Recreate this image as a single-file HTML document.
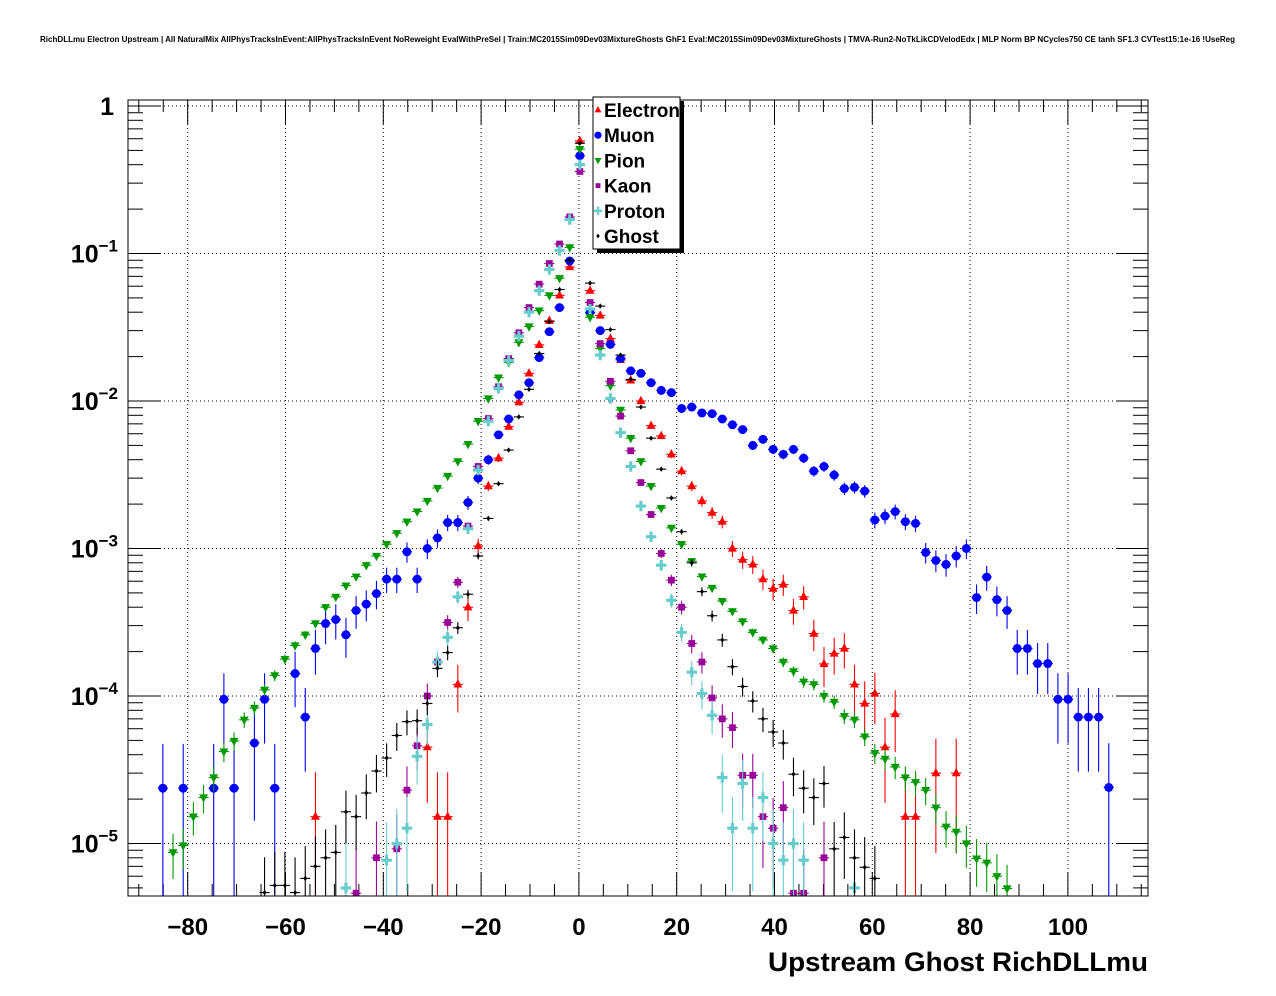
<!DOCTYPE html>
<html><head><meta charset="utf-8"><title>RichDLLmu</title>
<style>
html,body{margin:0;padding:0;background:#fff;width:1276px;height:996px;overflow:hidden;}
svg{display:block;font-family:"Liberation Sans",Arial,sans-serif;}
</style></head>
<body>
<svg id="chart" width="1276" height="996" viewBox="0 0 1276 996" xmlns="http://www.w3.org/2000/svg">
<rect x="0" y="0" width="1276" height="996" fill="#fff"/>
<text x="40" y="42" font-size="8" font-weight="bold" textLength="1195" lengthAdjust="spacingAndGlyphs">RichDLLmu Electron Upstream | All NaturalMix AllPhysTracksInEvent:AllPhysTracksInEvent NoReweight EvalWithPreSel | Train:MC2015Sim09Dev03MixtureGhosts GhF1 Eval:MC2015Sim09Dev03MixtureGhosts | TMVA-Run2-NoTkLikCDVelodEdx | MLP Norm BP NCycles750 CE tanh SF1.3 CVTest15:1e-16 !UseReg</text>
<defs><clipPath id="frameClip"><rect x="128" y="100" width="1020" height="796"/></clipPath></defs>
<g id="grid"></g>
<g id="axes"></g>
<g id="plot" clip-path="url(#frameClip)"></g>
<rect x="128" y="100" width="1020" height="796" fill="none" stroke="#000" stroke-width="1"/>
<text x="1148" y="971" text-anchor="end" font-size="27" font-weight="bold" textLength="380" lengthAdjust="spacingAndGlyphs">Upstream Ghost RichDLLmu</text>
<g id="legend">
  <rect x="597" y="101" width="87" height="152" fill="#000"/>
  <rect x="593" y="97" width="87" height="152" fill="#fff" stroke="#000" stroke-width="1"/>
</g>
</svg>
<script>
// bin centers (categories)
const binCenters = [-89.24,-87.16,-85.08,-83.0,-80.92,-78.84,-76.76,-74.68,-72.6,-70.52,
-68.44,-66.36,-64.28,-62.2,-60.12,-58.04,-55.96,-53.88,-51.8,-49.72,
-47.64,-45.56,-43.48,-41.4,-39.32,-37.24,-35.16,-33.08,-31.0,-28.92,
-26.84,-24.76,-22.68,-20.6,-18.52,-16.44,-14.36,-12.28,-10.2,-8.12,
-6.04,-3.96,-1.88,0.2,2.28,4.36,6.44,8.52,10.6,12.68,
14.76,16.84,18.92,21.0,23.08,25.16,27.24,29.32,31.4,33.48,
35.56,37.64,39.72,41.8,43.88,45.96,48.04,50.12,52.2,54.28,
56.36,58.44,60.52,62.6,64.68,66.76,68.84,70.92,73.0,75.08,
77.16,79.24,81.32,83.4,85.48,87.56,89.64,91.72,93.8,95.88,
97.96,100.04,102.12,104.2,106.28,108.36,110.44];
const n=null;
const electronValues = [n,n,n,n,n,n,n,n,n,n,
n,n,n,n,n,n,n,1.52e-5,n,n,
n,n,n,n,n,n,n,n,4.5e-5,1.52e-5,
1.52e-5,1.2e-4,4.0e-4,1.04e-3,2.65e-3,4.1e-3,6.7e-3,9.8e-3,1.54e-2,2.4e-2,
3.5e-2,5.2e-2,8.1e-2,0.58,5.6e-2,3.8e-2,2.65e-2,1.9e-2,1.38e-2,1.0e-2,
6.8e-3,5.8e-3,4.35e-3,3.35e-3,2.65e-3,2.1e-3,1.75e-3,1.52e-3,1.0e-3,8.4e-4,
7.8e-4,6.2e-4,5.35e-4,5.7e-4,3.8e-4,4.7e-4,2.65e-4,1.65e-4,1.94e-4,2.1e-4,
1.2e-4,8.9e-5,1.04e-4,4.5e-5,7.55e-5,1.52e-5,1.52e-5,n,3.0e-5,n,
3.0e-5,n,n,n,n,n,n,n,n,n,
n,n,n,n,n,n,n];
const muonValues = [n,n,2.37e-5,n,2.37e-5,n,n,2.37e-5,9.5e-5,2.37e-5,
n,4.8e-5,9.5e-5,2.37e-5,n,1.42e-4,7.2e-5,2.1e-4,3.1e-4,3.3e-4,
2.6e-4,3.8e-4,4.2e-4,4.95e-4,6.2e-4,6.2e-4,9.5e-4,6.2e-4,1.0e-3,1.18e-3,
1.5e-3,1.5e-3,2.05e-3,3.0e-3,4.0e-3,5.9e-3,7.55e-3,1.1e-2,1.33e-2,1.97e-2,
2.95e-2,4.3e-2,8.9e-2,0.46,3.97e-2,3.0e-2,2.42e-2,1.94e-2,1.6e-2,1.54e-2,
1.33e-2,1.18e-2,1.14e-2,8.9e-3,9.1e-3,8.3e-3,8.2e-3,7.55e-3,6.9e-3,6.4e-3,
5.0e-3,5.5e-3,4.7e-3,4.35e-3,4.7e-3,4.1e-3,3.35e-3,3.6e-3,3.15e-3,2.55e-3,
2.6e-3,2.45e-3,1.56e-3,1.66e-3,1.78e-3,1.52e-3,1.48e-3,9.4e-4,8.3e-4,7.8e-4,
8.9e-4,1.0e-3,4.65e-4,6.4e-4,4.5e-4,3.8e-4,2.1e-4,2.1e-4,1.66e-4,1.66e-4,
9.5e-5,9.5e-5,7.2e-5,7.2e-5,7.2e-5,2.4e-5,n];
const pionValues = [n,n,n,8.7e-6,9.7e-6,1.52e-5,2.05e-5,2.8e-5,4.2e-5,4.95e-5,
6.9e-5,8.3e-5,1.1e-4,1.38e-4,1.78e-4,2.2e-4,2.6e-4,3.1e-4,4.0e-4,4.7e-4,
5.6e-4,6.45e-4,7.7e-4,8.9e-4,1.07e-3,1.27e-3,1.52e-3,1.78e-3,2.1e-3,2.57e-3,
3.1e-3,3.9e-3,5.1e-3,7.3e-3,1.04e-2,1.44e-2,1.83e-2,2.5e-2,3.2e-2,4.1e-2,
5.2e-2,6.8e-2,0.11,0.51,3.7e-2,2.27e-2,1.27e-2,8.7e-3,5.6e-3,3.9e-3,
2.65e-3,1.88e-3,1.38e-3,1.07e-3,8.2e-4,6.45e-4,5.4e-4,4.4e-4,3.75e-4,3.2e-4,
2.7e-4,2.4e-4,2.1e-4,1.7e-4,1.47e-4,1.25e-4,1.2e-4,1.0e-4,9.1e-5,7.3e-5,
6.9e-5,5.3e-5,4.1e-5,3.75e-5,3.3e-5,2.8e-5,2.6e-5,2.3e-5,1.75e-5,1.3e-5,
1.2e-5,1.0e-5,7.9e-6,7.4e-6,6.0e-6,4.95e-6,n,n,n,n,
n,n,n,n,n,n,n];
const kaonValues = [n,n,n,n,n,n,n,n,n,n,
n,n,n,n,n,n,n,n,n,n,
n,4.6e-6,n,8.0e-6,n,9.2e-6,2.3e-5,4.6e-5,1.0e-4,1.7e-4,
3.15e-4,5.9e-4,1.42e-3,3.6e-3,7.6e-3,1.25e-2,1.94e-2,2.9e-2,4.3e-2,6.2e-2,
8.55e-2,0.116,0.177,0.36,4.65e-2,2.45e-2,1.36e-2,7.9e-3,4.6e-3,2.8e-3,
1.7e-3,9.25e-4,6.1e-4,4.0e-4,2.27e-4,1.7e-4,9.7e-5,7.0e-5,6.1e-5,2.9e-5,
2.9e-5,1.52e-5,1.27e-5,1.75e-5,4.6e-6,4.6e-6,n,8.0e-6,n,n,
n,n,n,n,n,n,n,n,n,n,
n,n,n,n,n,n,n,n,n,n,
n,n,n,n,n,n,n];
const protonValues = [n,n,n,n,n,n,n,n,n,n,
n,n,n,n,n,n,n,n,n,n,
5.0e-6,n,n,n,7.7e-6,1.0e-5,1.27e-5,3.9e-5,6.4e-5,1.7e-4,
2.5e-4,4.7e-4,1.36e-3,3.4e-3,7.3e-3,1.22e-2,1.88e-2,2.75e-2,4.0e-2,5.6e-2,
7.8e-2,0.105,0.17,0.40,4.2e-2,2.05e-2,1.04e-2,6.1e-3,3.6e-3,1.94e-3,
1.2e-3,7.7e-4,4.45e-4,2.7e-4,1.45e-4,1.04e-4,7.4e-5,2.8e-5,1.27e-5,2.55e-5,
1.27e-5,2.05e-5,1.0e-5,7.7e-6,1.0e-5,7.7e-6,n,n,n,n,
5.0e-6,n,n,n,n,n,n,n,n,n,
n,n,n,n,n,n,n,n,n,n,
n,n,n,n,n,n,n];
const ghostValues = [n,n,n,n,n,n,n,n,n,n,
n,n,4.65e-6,5.2e-6,5.2e-6,4.65e-6,5.8e-6,7.0e-6,8.0e-6,8.7e-6,
1.64e-5,1.52e-5,2.2e-5,3.1e-5,3.8e-5,5.4e-5,6.7e-5,6.8e-5,8.9e-5,1.54e-4,
1.97e-4,2.9e-4,4.9e-4,8.9e-4,1.6e-3,2.75e-3,4.65e-3,7.8e-3,1.2e-2,2.1e-2,
3.45e-2,5.7e-2,9.0e-2,0.56,6.3e-2,4.4e-2,3.05e-2,2.05e-2,1.4e-2,9.1e-3,
5.6e-3,3.45e-3,2.2e-3,1.3e-3,8.0e-4,5.1e-4,3.5e-4,2.4e-4,1.58e-4,1.16e-4,
9.25e-5,7.0e-5,5.7e-5,4.8e-5,2.95e-5,2.37e-5,2.05e-5,2.55e-5,9.2e-6,1.1e-5,
8.0e-6,6.9e-6,5.8e-6,n,n,n,n,n,n,n,
n,n,n,n,n,n,n,n,n,n,
n,n,n,n,n,n,n];
// per-entry weight (sets statistical error size)
const entryWeights = [1.52e-5, 2.37e-5, 1.0e-6, 4.6e-6, 5.0e-6, 2.5e-6];
const seriesNames = ["Electron","Muon","Pion","Kaon","Proton","Ghost"];
const xTicks = [-80,-60,-40,-20,0,20,40,60,80,100];
const xTickLabels = ["\u221280","\u221260","\u221240","\u221220","0","20","40","60","80","100"];
const yDecades = [0,-1,-2,-3,-4,-5];

const NS="http://www.w3.org/2000/svg";
const X0=128,X1=1148,Y0=100,Y1=896;
const xMin=(X0-578.9)/4.89, xMax=(X1-578.9)/4.89;
const logMax=(106-Y0)/147.5, logMin=(106-Y1)/147.5;
function xs(v){return X0+(v-xMin)/(xMax-xMin)*(X1-X0);}
function ys(v){const l=Math.log10(v);return Y0+(logMax-l)/(logMax-logMin)*(Y1-Y0);}
function mk(tag,attrs,parent){const e=document.createElementNS(NS,tag);for(const k in attrs)e.setAttribute(k,attrs[k]);parent.appendChild(e);return e;}

const grid=document.getElementById('grid'),axes=document.getElementById('axes'),plot=document.getElementById('plot'),legend=document.getElementById('legend');
xTicks.forEach(t=>{const l=mk('line',{x1:xs(t),x2:xs(t),y1:Y0,y2:Y1,stroke:'#000','stroke-width':1,'stroke-dasharray':'1,3'},grid);

});
yDecades.forEach(d=>{const l=mk('line',{x1:X0,x2:X1,y1:ys(Math.pow(10,d)),y2:ys(Math.pow(10,d)),stroke:'#000','stroke-width':1,'stroke-dasharray':'1,3'},grid);

});
for(let t=-90;t<=115;t+=5){const px=xs(t);if(px<X0||px>X1)continue;const major=(t%20===0);const len=major?24:12;
mk('line',{x1:px,x2:px,y1:Y1,y2:Y1-len,stroke:'#000','stroke-width':1},axes);
mk('line',{x1:px,x2:px,y1:Y0,y2:Y0+len,stroke:'#000','stroke-width':1},axes);}
xTicks.forEach((t,i)=>{const tx=mk('text',{x:xs(t),y:935,'text-anchor':'middle','font-size':24,'font-weight':'bold'},axes);tx.textContent=xTickLabels[i];

});
for(let d=-6;d<=0;d++){for(let m=1;m<=9;m++){const v=m*Math.pow(10,d);const py=ys(v);if(py<Y0||py>Y1)continue;const len=(m===1)?32:15;
mk('line',{x1:X0,x2:X0+len,y1:py,y2:py,stroke:'#000','stroke-width':1},axes);
mk('line',{x1:X1,x2:X1-len,y1:py,y2:py,stroke:'#000','stroke-width':1},axes);}}
yDecades.forEach(d=>{const py=ys(Math.pow(10,d));const tx=mk('text',{x:114,y:py+9,'text-anchor':'end','font-size':25,'font-weight':'bold'},axes);


if(d===0){tx.textContent='1';}else{const a=document.createElementNS(NS,'tspan');a.textContent='10';tx.appendChild(a);const b=document.createElementNS(NS,'tspan');b.setAttribute('dy','-11');b.setAttribute('font-size','17');b.textContent='\u2212'+(-d);tx.appendChild(b);tx.setAttribute('x',118);}});

const colors=['#ff0000','#0000ff','#009900','#990099','#66cccc','#000000'];
function marker(type,cx,cy,s,color,parent){
  if(type===0) return mk('polygon',{points:`${cx},${cy-s} ${cx-s*0.85},${cy+s*0.6} ${cx+s*0.85},${cy+s*0.6}`,fill:color},parent);
  if(type===1) return mk('circle',{cx:cx,cy:cy,r:s*0.8,fill:color},parent);
  if(type===2) return mk('polygon',{points:`${cx},${cy+s} ${cx-s*0.85},${cy-s*0.6} ${cx+s*0.85},${cy-s*0.6}`,fill:color},parent);
  if(type===3) return mk('rect',{x:cx-s*0.6,y:cy-s*0.6,width:s*1.2,height:s*1.2,fill:color},parent);
  if(type===4) return mk('path',{d:`M${cx-s*0.3},${cy-s}h${s*0.6}v${s*0.7}h${s*0.7}v${s*0.6}h${-s*0.7}v${s*0.7}h${-s*0.6}v${-s*0.7}h${-s*0.7}v${-s*0.6}h${s*0.7}z`,fill:color},parent);
  return mk('polygon',{points:`${cx},${cy-s*0.6} ${cx+s*0.45},${cy} ${cx},${cy+s*0.6} ${cx-s*0.45},${cy}`,fill:color},parent);
}
const allSeries=[electronValues,muonValues,pionValues,kaonValues,protonValues,ghostValues];
const sizes=[5.2,5.6,5.2,5.6,5.2,4.5];
const halfBin=1.04;
allSeries.forEach((vals,si)=>{
  const g=mk('g',{},plot);
  
  
  vals.forEach((v,i)=>{
    if(v===null)return;
    const x=binCenters[i];const cx=xs(x),cy=ys(v);
    const err=Math.sqrt(v*entryWeights[si]);
    const lo=v-err>0?Math.min(ys(v-err),Y1):Y1;const hi=ys(v+err);
    const pt=mk('g',{},g);
    
    
    mk('line',{x1:cx,x2:cx,y1:hi,y2:lo,stroke:colors[si],'stroke-width':1.1},pt);
    mk('line',{x1:xs(x-halfBin),x2:xs(x+halfBin),y1:cy,y2:cy,stroke:colors[si],'stroke-width':1.1},pt);
    marker(si,cx,cy,sizes[si],colors[si],pt);
  });
});
seriesNames.forEach((nm,i)=>{
  const ly=110+i*25.2;
  const e=mk('g',{},legend);
  
  
  marker(i,598,ly,i===1?4.5:4,colors[i],e);
  const t=mk('text',{x:604,y:ly+7,'font-size':19,'font-weight':'bold'},e);t.textContent=nm;
});
</script>
</body></html>
